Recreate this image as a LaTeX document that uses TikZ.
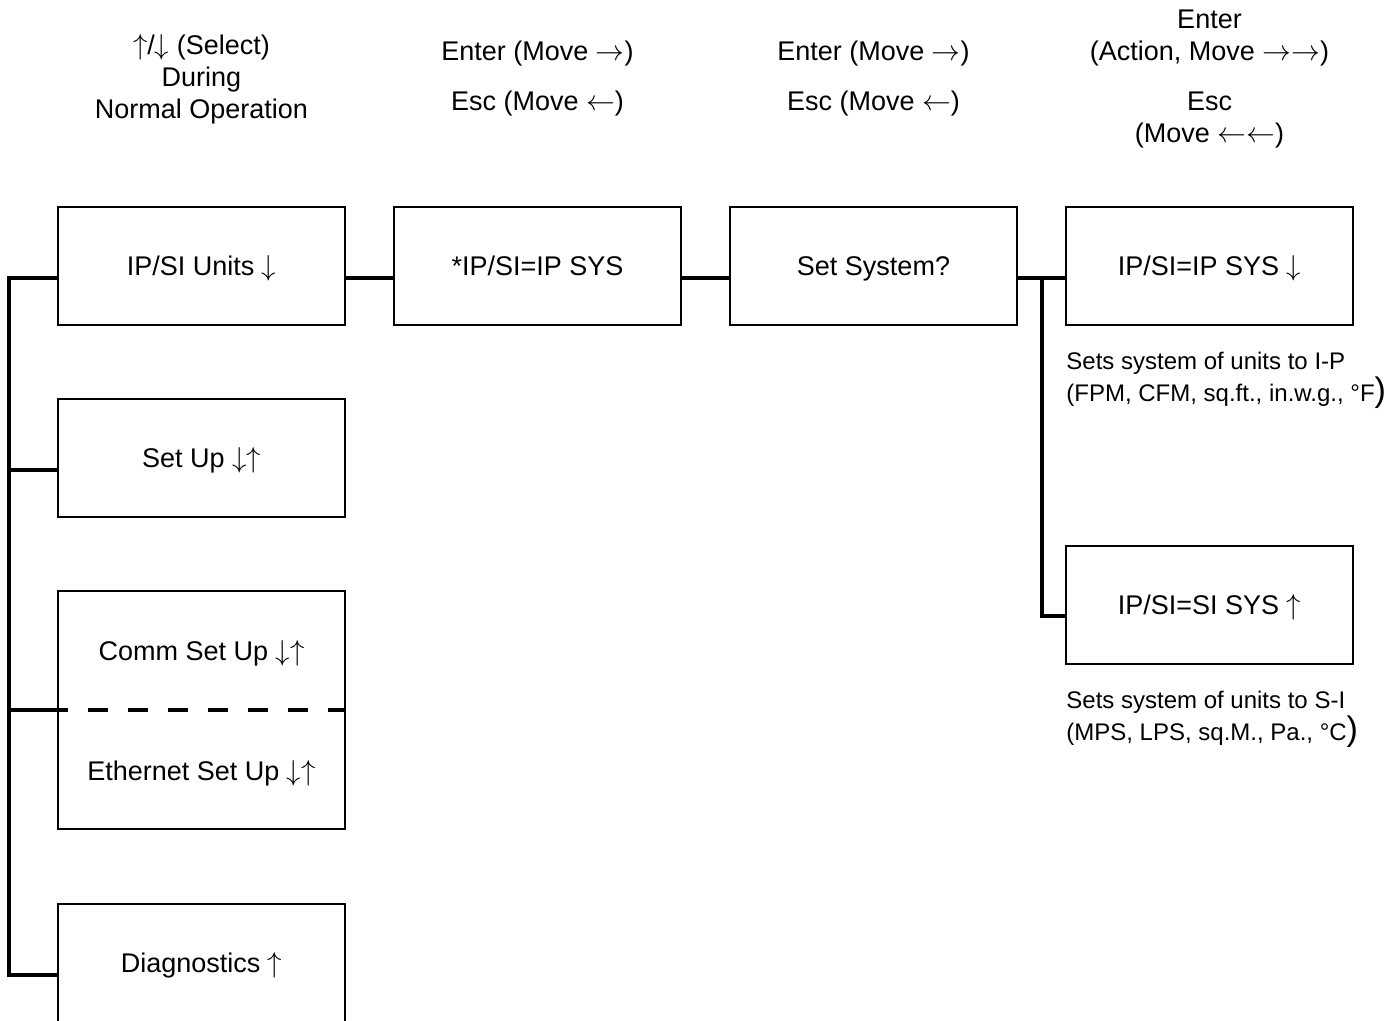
\documentclass[tikz,border=0pt]{standalone}
\usepackage{fontspec}
\setmainfont{Liberation Sans}
\usetikzlibrary{positioning}
\newcommand{\tallparen}{{\fontsize{17}{16}\selectfont)}}

\begin{document}
\begin{tikzpicture}[x=0.5pt, y=-0.5pt, node distance=24.5pt, font=\fontsize{13.5}{16}\selectfont]
  \tikzstyle{menubox} = [rectangle, draw=black, line width=1pt, minimum width=143.5pt, minimum height=59pt, inner sep=0pt, outer sep=0pt, text height=9.7pt, text depth=0pt]
  \tikzstyle{boxtext} = [inner sep=0pt, text height=9.7pt, text depth=0pt]
  \tikzstyle{keyhelp} = [align=center, inner sep=0pt]
  \tikzstyle{note} = [align=left, inner sep=0pt, anchor=north west, font=\fontsize{12}{16}\selectfont]
  \tikzstyle{link} = [line width=2pt, line join=miter]

  \useasboundingbox (0,0) rectangle (1398,1021);

  % top row
  \node [menubox] (units) at (201.5,266) {IP/SI Units $\downarrow$};
  \node [menubox, right=of units] (ipsi) {*IP/SI=IP SYS};
  \node [menubox, right=of ipsi] (setsys) {Set System?};
  \node [menubox, right=of setsys] (ipsys) {IP/SI=IP SYS $\downarrow$};
  \node [menubox, below=110.5pt of ipsys] (sisys) {IP/SI=SI SYS $\uparrow$};

  % left column
  \node [menubox, below=37pt of units] (setup) {Set Up $\downarrow\uparrow$};
  \node [menubox, minimum height=119pt, below=37pt of setup] (commeth) {};
  \node [boxtext, yshift=29.5pt] (comm) at (commeth.center) {Comm Set Up $\downarrow\uparrow$};
  \node [boxtext, yshift=-30.5pt] (eth) at (commeth.center) {Ethernet Set Up $\downarrow\uparrow$};
  \node [menubox, below=37.5pt of commeth] (diag) {Diagnostics $\uparrow$};

  % key help
  \node [keyhelp] (hselect) at ([yshift=93.5pt]units.center) {$\uparrow$/$\downarrow$ (Select)\\During\\Normal Operation};
  \node [keyhelp] (hmove1) at ([yshift=93.5pt]ipsi.center) {Enter (Move $\rightarrow$)\\[9pt]Esc (Move $\leftarrow$)};
  \node [keyhelp] (hmove2) at ([yshift=93.5pt]setsys.center) {Enter (Move $\rightarrow$)\\[9pt]Esc (Move $\leftarrow$)};
  \node [keyhelp] (haction) at ([yshift=93.5pt]ipsys.center) {Enter\\(Action, Move $\rightarrow\rightarrow$)\\[9pt]Esc\\(Move $\leftarrow\leftarrow$)};

  % notes
  \node [note] (ipnote) at ([yshift=-13.5pt]ipsys.south west) {Sets system of units to I-P\\(FPM, CFM, sq.ft., in.w.g., °F\tallparen};
  \node [note] (sinote) at ([yshift=-13.5pt]sisys.south west) {Sets system of units to S-I\\(MPS, LPS, sq.M., Pa., °C\tallparen};

  % connectors
  \draw [link] ([yshift=-6pt]units.east) -- ([yshift=-6pt]ipsi.west);
  \draw [link] ([yshift=-6pt]ipsi.east) -- ([yshift=-6pt]setsys.west);
  \draw [link] ([yshift=-6pt]setsys.east) -- ([yshift=-6pt]ipsys.west);
  \coordinate (fork) at ([xshift=-12.25pt,yshift=-6pt]ipsys.west);
  \draw [link] (fork) |- ([yshift=-5.5pt]sisys.west);

  \draw [link] ([yshift=-6pt]units.west) -| ([xshift=-24.5pt,yshift=-6pt]diag.west) -- ([yshift=-6pt]diag.west);
  \draw [link] ([yshift=-6pt]setup.west) -- ++(-24.5pt,0);
  \draw [link] (commeth.west) -- ++(-24.5pt,0);
  \draw [link, dash pattern=on 10pt off 10pt, dash phase=5pt] (commeth.west) -- (commeth.east);
\end{tikzpicture}
\end{document}
